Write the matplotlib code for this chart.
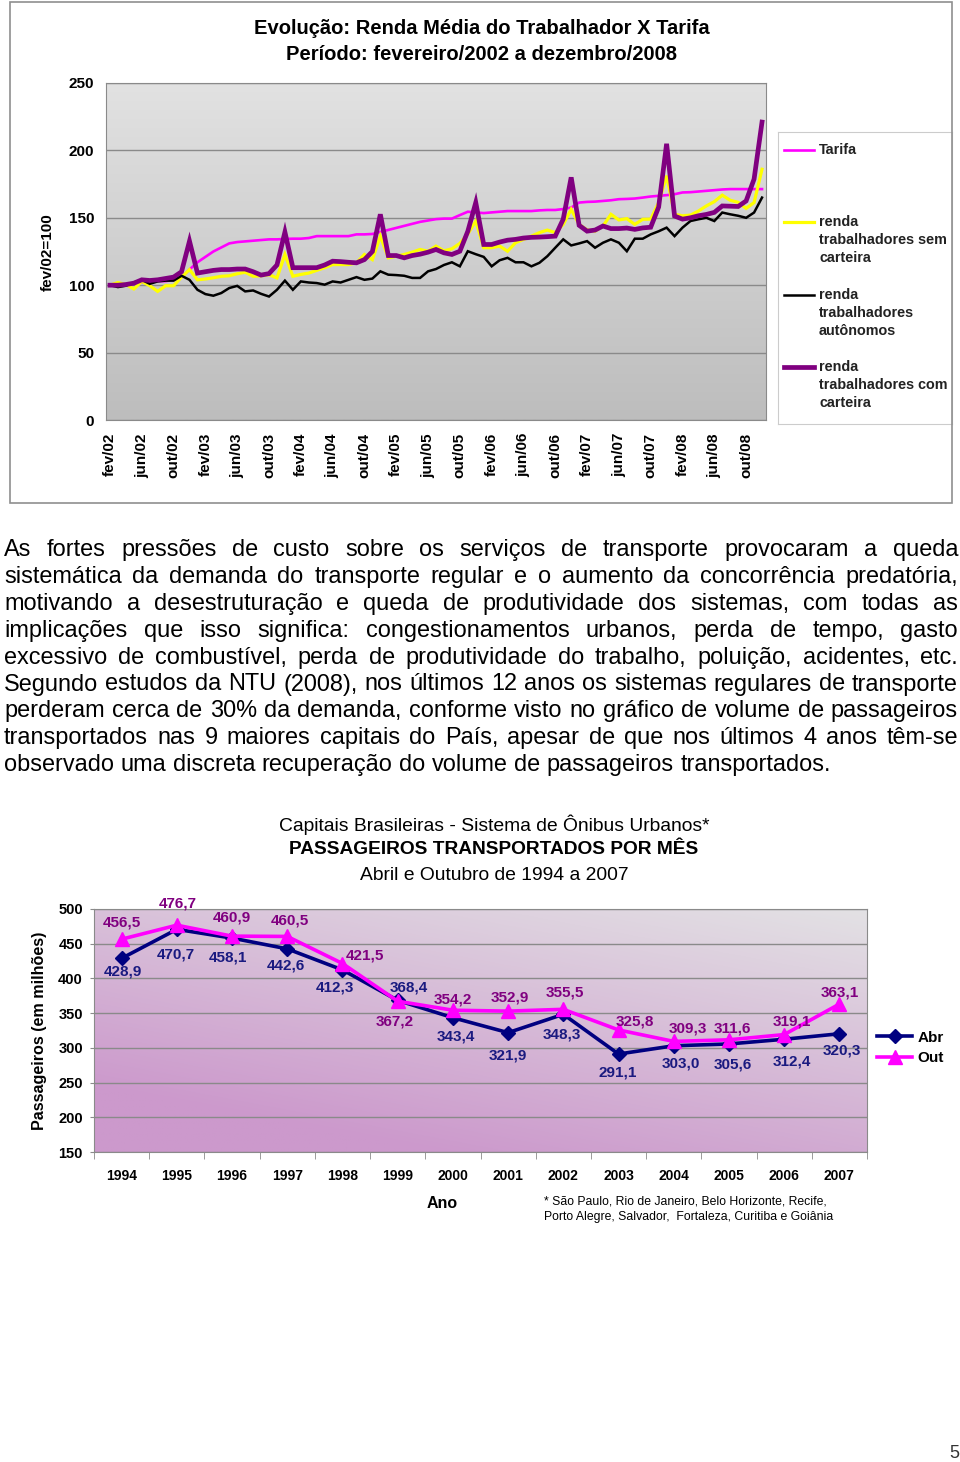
import numpy as np
import matplotlib.pyplot as plt
from matplotlib.colors import LinearSegmentedColormap
from matplotlib.patches import Rectangle

plt.rcParams['font.family'] = ['Liberation Sans', 'DejaVu Sans']
NARROW = ['Liberation Sans Narrow', 'Liberation Sans', 'DejaVu Sans']

# ---------------- data: top chart (index fev/02 = 100, monthly fev/02 .. dez/08)
tarifa = [100, 100, 100.5, 101, 102, 102, 103, 103, 104, 106,
          111.6, 117, 121, 125, 128, 131, 132, 132.5, 133, 133.5,
          134, 134, 134.3, 134.5, 134.5, 135, 136.4, 136.4, 136.4, 136.4,
          136.4, 137.7, 137.7, 138, 139.5, 141, 142.5, 144, 145.5, 147,
          148, 149, 149.4, 149.4, 152, 154.5, 154, 153.5, 154, 154.5,
          155, 155, 155, 155, 155.5, 155.8, 155.8, 156.5, 157.6, 161.3,
          161.8, 162, 162.5, 163, 163.8, 164, 164.3, 165, 165.8, 166.3,
          166.8, 167.5, 168.8, 169, 169.5, 170, 170.5, 171, 171.3, 171.3,
          171.3, 171.3, 171.3]
sem_carteira = [100, 102, 100.4, 97.2, 102.8, 99.6, 95.4, 99.6, 99.6, 106,
                111.6, 104, 104.6, 105.5, 106.6, 107, 108.5, 109.6, 106.6, 107,
                107.8, 105.4, 122.8, 106.6, 108, 109, 111, 113, 115.3, 115.3,
                115.3, 116.6, 122.8, 119, 136.4, 120.3, 121.5, 122.8, 124.5, 126.5,
                125.2, 129, 125.5, 127, 131, 138, 147.6, 127.8, 127.8, 129,
                125.2, 131.5, 134, 136.4, 139, 140.9, 139, 145.1, 156.3, 145.1,
                141, 140.1, 143.9, 152.6, 148.4, 149.4, 145.1, 148.9, 149, 161.3,
                181.2, 152.6, 151.5, 152, 155, 158.8, 162, 166.8, 163, 161.5,
                157, 161.3, 186]
autonomos = [100, 98.6, 99.6, 102, 104, 101, 102.8, 103.4, 103.4, 107,
             104, 96.6, 93.4, 92.2, 94.2, 97.9, 99.5, 95.4, 96.1, 93.6,
             91.6, 96.6, 103.4, 96.6, 102.8, 102, 101.6, 100.4, 102.8, 102,
             104, 106, 104, 104.9, 110.3, 107.8, 107.5, 107, 105.4, 105.4,
             110.3, 112, 115, 117, 114, 125.2, 123, 121, 114, 118.5,
             120.3, 117, 117, 114, 116.6, 121.5, 127.8, 134, 129.5, 131,
             132.7, 127.8, 131.5, 134, 131.5, 125.2, 134.5, 134.5, 137.7, 140,
             142.7, 136.4, 142.7, 147.6, 148.9, 150, 147.6, 153.9, 152.6, 151.5,
             150, 153.9, 165]
com_carteira = [100, 100, 100.5, 101.5, 104, 103.5, 104, 105, 106, 110,
                132.7, 109, 110, 111, 111.6, 111.6, 112, 112, 110, 107.5,
                108.6, 115, 139.4, 113, 113, 113, 113, 115, 117.8, 117.5,
                117, 116.6, 119, 125, 152.6, 122, 122, 120.3, 122, 123,
                124.5, 126.5, 124, 122.8, 125.2, 140, 161.3, 130.2, 130.2, 132,
                133.4, 134, 135, 135.5, 135.7, 136, 136.4, 149, 180, 144.4,
                140.1, 140.9, 143.9, 142, 142, 142.4, 141.4, 142.5, 143, 158,
                204.9, 151.3, 149, 150, 151.5, 152.5, 154, 158.8, 158.6, 158.4,
                162.5, 178.7, 221]
month_ticks = ['fev/02', 'jun/02', 'out/02', 'fev/03', 'jun/03', 'out/03',
               'fev/04', 'jun/04', 'out/04', 'fev/05', 'jun/05', 'out/05',
               'fev/06', 'jun/06', 'out/06', 'fev/07', 'jun/07', 'out/07',
               'fev/08', 'jun/08', 'out/08']
top_names = [['Tarifa'], ['renda', 'trabalhadores sem', 'carteira'],
             ['renda', 'trabalhadores', 'autônomos'],
             ['renda', 'trabalhadores com', 'carteira']]

# ---------------- data: bottom chart
anos = ['1994', '1995', '1996', '1997', '1998', '1999', '2000',
        '2001', '2002', '2003', '2004', '2005', '2006', '2007']
abr = [428.9, 470.7, 458.1, 442.6, 412.3, 368.4, 343.4,
       321.9, 348.3, 291.1, 303.0, 305.6, 312.4, 320.3]
out = [456.5, 476.7, 460.9, 460.5, 421.5, 367.2, 354.2,
       352.9, 355.5, 325.8, 309.3, 311.6, 319.1, 363.1]

paragraph = [
    "As fortes pressões de custo sobre os serviços de transporte provocaram a queda",
    "sistemática da demanda do transporte regular e o aumento da concorrência predatória,",
    "motivando a desestruturação e queda de produtividade dos sistemas, com todas as",
    "implicações que isso significa: congestionamentos urbanos, perda de tempo, gasto",
    "excessivo de combustível, perda de produtividade do trabalho, poluição, acidentes, etc.",
    "Segundo estudos da NTU (2008), nos últimos 12 anos os sistemas regulares de transporte",
    "perderam cerca de 30% da demanda, conforme visto no gráfico de volume de passageiros",
    "transportados nas 9 maiores capitais do País, apesar de que nos últimos 4 anos têm-se",
    "observado uma discreta recuperação do volume de passageiros transportados.",
]

W, H = 960, 1462
fig = plt.figure(figsize=(W / 100, H / 100), dpi=100)


def box(l, t, r, b):
    return [l / W, 1 - b / H, (r - l) / W, (b - t) / H]


def fx(x):
    return x / W


def fy(y):
    return 1 - y / H


# ================= top chart =================
fig.add_artist(Rectangle((fx(10), fy(503)), 942 / W, 501 / H, transform=fig.transFigure,
                         fill=False, ec='#8f8f8f', lw=1.2))
fig.text(fx(482), fy(29), 'Evolução: Renda Média do Trabalhador X Tarifa', ha='center',
         va='center', fontsize=14.5, fontweight='bold', family=NARROW)
fig.text(fx(482), fy(55), 'Período: fevereiro/2002 a dezembro/2008', ha='center',
         va='center', fontsize=14.5, fontweight='bold', family=NARROW)

rect1 = box(106, 83, 766, 420)
bg1 = fig.add_axes(rect1, zorder=0)
bg1.imshow(np.linspace(0, 1, 256).reshape(-1, 1), aspect='auto',
           cmap=LinearSegmentedColormap.from_list('g1', ['#e2e2e2', '#bdbdbd']))
bg1.axis('off')

ax1 = fig.add_axes(rect1, zorder=1)
ax1.patch.set_alpha(0)
months = np.arange(len(tarifa))
styles = [('#ff00ff', 1.9), ('#ffff00', 2.3), ('#000000', 1.8), ('#800080', 3.4)]
for series, (c, lw) in zip([tarifa, sem_carteira, autonomos, com_carteira], styles):
    ax1.plot(months, series, color=c, lw=lw, solid_joinstyle='miter')
ax1.set_xlim(-0.5, len(tarifa) - 0.5)
ax1.set_ylim(0, 250)
ax1.set_yticks(range(0, 251, 50), labels=[str(v) for v in range(0, 251, 50)],
               fontsize=11, fontweight='bold')
ax1.set_xticks(months[::4], labels=month_ticks, rotation=90, fontsize=11,
               fontweight='bold', va='top')
ax1.tick_params(axis='x', length=0, pad=9.4)
ax1.tick_params(axis='y', length=0, pad=8.6)
ax1.grid(axis='y', color='#8a8a8a', lw=1)
ax1.set_axisbelow(True)
for s in ax1.spines.values():
    s.set_color('#8a8a8a')
fig.text(fx(48), fy(252), 'fev/02=100', rotation=90, ha='center', va='center',
         fontsize=11, fontweight='bold')

# legend box
lg = fig.add_axes(box(778, 132, 952, 424))
lg.set_xlim(778, 952)
lg.set_ylim(424, 132)
lg.set_xticks([])
lg.set_yticks([])
for s in lg.spines.values():
    s.set_color('#cccccc')
for name, (c, lw), y0 in zip(top_names, styles, [150, 222, 295, 367]):
    lg.plot([784, 814], [y0, y0], color=c, lw=lw)
    for k, ln in enumerate(name):
        lg.text(819, y0 + 18 * k, ln, va='center', ha='left', fontsize=10.4,
                fontweight='bold', color='#222222')

# ================= paragraph =================
renderer = fig.canvas.get_renderer()


def text_w(s, fs):
    t = fig.text(0, 0, s, fontsize=fs)
    w = t.get_window_extent(renderer).width
    t.remove()
    return w


fs_p = 10 * 952 / max(text_w(l, 10) for l in paragraph)
space_w = text_w('a a', fs_p) - text_w('aa', fs_p)
left, right = 4, 958
for k, line in enumerate(paragraph):
    words = line.split(' ')
    widths = [text_w(w, fs_p) for w in words]
    if k < len(paragraph) - 1:
        gap = (right - left - sum(widths)) / (len(words) - 1)
    else:
        gap = space_w
    x = left
    yb = 556 + 26.9 * k
    for w, ww in zip(words, widths):
        fig.text(fx(x), fy(yb), w, fontsize=fs_p, ha='left', va='baseline')
        x += ww + gap

# ================= bottom chart =================
fig.text(fx(494), fy(825), 'Capitais Brasileiras - Sistema de Ônibus Urbanos*', ha='center',
         va='center', fontsize=13.9)
fig.text(fx(494), fy(850), 'PASSAGEIROS TRANSPORTADOS POR MÊS', ha='center',
         va='center', fontsize=13.8, fontweight='bold')
fig.text(fx(494), fy(875), 'Abril e Outubro de 1994 a 2007', ha='center',
         va='center', fontsize=13.9)

rect2 = box(94, 909, 867, 1152)
bg2 = fig.add_axes(rect2, zorder=0)
gx = np.linspace(0, 1, 300)[None, :]
gy = np.linspace(0, 1, 200)[:, None]
u = np.clip(0.45 * (1 - gx) + 0.75 * gy, 0, 1)
c0 = np.array([0.89, 0.885, 0.895])
c1 = np.array([0.80, 0.60, 0.80])
img = c0[None, None, :] * (1 - u[..., None]) + c1[None, None, :] * u[..., None]
bg2.imshow(img, aspect='auto')
bg2.axis('off')

ax2 = fig.add_axes(rect2, zorder=1)
ax2.patch.set_alpha(0)
xs = np.arange(len(anos))
ax2.plot(xs, abr, color='#000080', lw=2.6, marker='D', ms=7.5, label='Abr', zorder=3)
ax2.plot(xs, out, color='#ff00ff', lw=2.6, marker='^', ms=9.5, label='Out', zorder=4)
ax2.set_xlim(-0.5, len(anos) - 0.5)
ax2.set_ylim(150, 500)
ax2.set_yticks(range(150, 501, 50), labels=[str(v) for v in range(150, 501, 50)],
               fontsize=10.5, fontweight='bold')
ax2.set_xticks(xs, labels=anos, fontsize=10, fontweight='bold')
ax2.set_xticks(np.arange(-0.5, len(anos)), minor=True)
ax2.tick_params(axis='x', which='major', length=0, pad=12.5)
ax2.tick_params(axis='x', which='minor', length=5, color='#8a8a8a')
ax2.tick_params(axis='y', length=3, color='#8a8a8a', pad=5)
ax2.grid(axis='y', color='#8a8a8a', lw=1)
ax2.set_axisbelow(True)
for s in ax2.spines.values():
    s.set_color('#8a8a8a')

out_off = [(0.7, -16.5), (0.5, -21.2), (-0.3, -18.8), (2.5, -16.4), (22.3, -8.5),
           (-3.3, 20.5), (0.2, -11.2), (1.7, -13.8), (1.5, -17), (16.3, -8.2),
           (13.7, -13.1), (3.2, -11.5), (8, -12.9), (0.5, -11.3)]
abr_off = [(1.1, 13.3), (-0.8, 24.7), (-4, 19.2), (-0.9, 16.2), (-7.1, 17.4),
           (11.4, -13.1), (2.5, 19), (-0.3, 22.4), (-1.2, 19.7), (-0.4, 18.7),
           (7.1, 17.5), (4.2, 21), (8, 22.5), (2.1, 17.2)]
for vals, offs, col in [(abr, abr_off, '#1a1a80'), (out, out_off, '#800080')]:
    for xi, v, (dx, dy) in zip(xs, vals, offs):
        ax2.annotate(f'{v:.1f}'.replace('.', ','), (xi, v), xytext=(dx, -dy),
                     textcoords='offset pixels', ha='center', va='center',
                     fontsize=11, fontweight='bold', color=col, zorder=5)

ax2.legend(loc='center left', bbox_to_anchor=(fx(877), fy(1048)), bbox_transform=fig.transFigure,
           frameon=False, prop={'weight': 'bold', 'size': 11}, handlelength=2.3,
           handletextpad=0.35, labelspacing=0.45, borderpad=0, borderaxespad=0)

fig.text(fx(40), fy(1031), 'Passageiros (em milhões)', rotation=90, ha='center', va='center',
         fontsize=11.6, fontweight='bold')
fig.text(fx(442), fy(1204), 'Ano', ha='center', va='center', fontsize=11.5, fontweight='bold')
fig.text(fx(544), fy(1201), '* São Paulo, Rio de Janeiro, Belo Horizonte, Recife,',
         ha='left', va='center', fontsize=8.8, family=NARROW)
fig.text(fx(544), fy(1217), 'Porto Alegre, Salvador,  Fortaleza, Curitiba e Goiânia',
         ha='left', va='center', fontsize=8.8, family=NARROW)
fig.text(fx(954), fy(1454), '5', ha='center', va='center', fontsize=13, color='#333333')

fig.savefig('out.png', dpi=100)
